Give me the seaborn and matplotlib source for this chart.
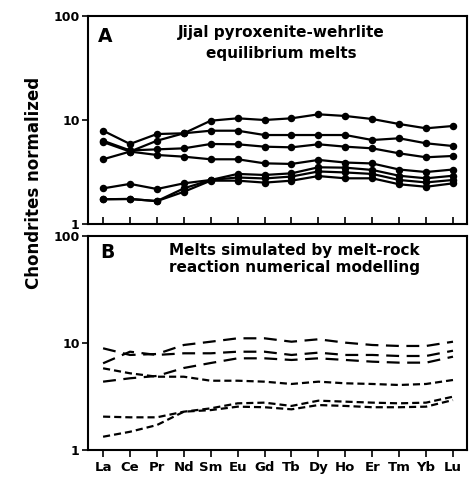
import matplotlib
matplotlib.use("Agg")
import matplotlib.pyplot as plt
from matplotlib.ticker import NullLocator, FixedLocator, FixedFormatter
import seaborn as sns
import pandas as pd

elements = ["La", "Ce", "Pr", "Nd", "Sm", "Eu", "Gd", "Tb", "Dy", "Ho", "Er", "Tm", "Yb", "Lu"]

# Panel A: Jijal pyroxenite-wehrlite equilibrium melts
a1 = [4.19, 4.97, 6.32, 7.45, 9.85, 10.38, 10.0, 10.38, 11.34, 10.93, 10.22, 9.15, 8.32, 8.76]
a2 = [7.89, 5.88, 7.33, 7.45, 7.89, 7.89, 7.17, 7.17, 7.17, 7.17, 6.42, 6.67, 5.97, 5.62]
a3 = [6.32, 5.10, 5.22, 5.34, 5.88, 5.84, 5.54, 5.46, 5.84, 5.54, 5.34, 4.78, 4.38, 4.51]
a4 = [6.14, 4.97, 4.61, 4.44, 4.19, 4.19, 3.83, 3.78, 4.13, 3.90, 3.82, 3.34, 3.16, 3.34]
a5 = [2.20, 2.43, 2.17, 2.46, 2.65, 3.03, 2.96, 3.07, 3.51, 3.48, 3.31, 2.91, 2.75, 2.91]
a6 = [1.73, 1.74, 1.66, 2.20, 2.65, 2.80, 2.74, 2.86, 3.20, 3.13, 3.03, 2.65, 2.51, 2.65]
a7 = [1.73, 1.74, 1.66, 2.04, 2.61, 2.61, 2.50, 2.61, 2.89, 2.75, 2.75, 2.41, 2.28, 2.46]

# Panel B: melts simulated by melt-rock reaction numerical modelling
b1 = [8.92, 7.73, 7.89, 9.58, 10.28, 11.06, 11.06, 10.28, 10.83, 10.07, 9.58, 9.38, 9.38, 10.28]
b2 = [6.46, 8.29, 7.73, 8.01, 8.01, 8.29, 8.29, 7.73, 8.12, 7.73, 7.73, 7.56, 7.56, 8.47]
b3 = [4.35, 4.68, 4.92, 5.84, 6.50, 7.19, 7.19, 6.94, 7.19, 6.94, 6.69, 6.55, 6.55, 7.45]
b4 = [5.80, 5.21, 4.84, 4.84, 4.44, 4.44, 4.35, 4.14, 4.35, 4.20, 4.14, 4.05, 4.14, 4.51]
b5 = [2.05, 2.02, 2.02, 2.28, 2.45, 2.73, 2.77, 2.58, 2.89, 2.83, 2.77, 2.73, 2.77, 3.15]
b6 = [1.33, 1.48, 1.71, 2.28, 2.36, 2.54, 2.51, 2.40, 2.63, 2.58, 2.51, 2.51, 2.54, 2.93]

series_a = {"a1": a1, "a2": a2, "a3": a3, "a4": a4, "a5": a5, "a6": a6, "a7": a7}
series_b = {"b1": b1, "b2": b2, "b3": b3, "b4": b4, "b5": b5, "b6": b6}


def long_df(series):
    rows = []
    for name, vals in series.items():
        for i, v in enumerate(vals):
            rows.append({"series": name, "pos": i, "element": elements[i], "value": v})
    return pd.DataFrame(rows)


dfa = long_df(series_a)
dfb = long_df(series_b)

sns.set_theme(style="ticks")
plt.rcParams["font.family"] = ["DejaVu Sans"]
plt.rcParams["font.weight"] = "bold"
plt.rcParams["text.color"] = "black"
plt.rcParams["axes.labelcolor"] = "black"
plt.rcParams["xtick.color"] = "black"
plt.rcParams["ytick.color"] = "black"

fig = plt.figure(figsize=(4.77, 4.78), dpi=100)
axA = fig.add_axes([0.1845, 0.5314, 0.7945, 0.4351])
axB = fig.add_axes([0.1845, 0.0586, 0.7945, 0.4477])

black_a = {k: "black" for k in series_a}
black_b = {k: "black" for k in series_b}

sns.lineplot(data=dfa, x="pos", y="value", hue="series", palette=black_a,
             units="series", estimator=None, marker="o", markersize=5.4,
             markeredgewidth=0, linewidth=1.6, legend=False, ax=axA)

long_d = (5.8, 3.4)
short_d = (3.2, 1.8)
dash_map = {"b1": long_d, "b2": long_d, "b3": long_d,
            "b4": short_d, "b5": short_d, "b6": short_d}
sns.lineplot(data=dfb, x="pos", y="value", hue="series", palette=black_b,
             style="series", dashes=dash_map, estimator=None,
             linewidth=1.6, legend=False, ax=axB)

for ax in (axA, axB):
    ax.set_yscale("log")
    ax.set_ylim(1, 100)
    ax.set_xlim(-0.56, 13.52)
    ax.yaxis.set_major_locator(FixedLocator([1, 10, 100]))
    ax.yaxis.set_major_formatter(FixedFormatter(["1", "10", "100"]))
    ax.yaxis.set_minor_locator(NullLocator())
    ax.set_xticks(range(len(elements)))
    ax.set_xlabel("")
    ax.set_ylabel("")
    for s in ax.spines.values():
        s.set_linewidth(1.5)
        s.set_color("black")
    ax.tick_params(axis="y", direction="out", length=4, width=1.2, pad=2,
                   labelsize=9, colors="black")
    for lab in ax.get_yticklabels():
        lab.set_fontweight("bold")

axA.set_xticklabels([])
axA.tick_params(axis="x", direction="in", length=5, width=1.2)
axB.set_xticklabels(elements)
axB.tick_params(axis="x", direction="out", length=5, width=1.2, pad=3,
                labelsize=9.5, colors="black")
for lab in axB.get_xticklabels():
    lab.set_fontweight("bold")

axA.text(0.025, 0.945, "A", transform=axA.transAxes, fontsize=13.5,
         fontweight="bold", va="top", ha="left", color="black")
axA.text(0.51, 0.955, "Jijal pyroxenite-wehrlite\nequilibrium melts",
         transform=axA.transAxes, fontsize=11, fontweight="bold",
         va="top", ha="center", linespacing=1.5, color="black")

axB.text(0.033, 0.965, "B", transform=axB.transAxes, fontsize=13.5,
         fontweight="bold", va="top", ha="left", color="black")
axB.text(0.545, 0.965, "Melts simulated by melt-rock\nreaction numerical modelling",
         transform=axB.transAxes, fontsize=11, fontweight="bold",
         va="top", ha="center", linespacing=1.15, color="black")

fig.text(0.072, 0.617, "Chondrites normalized", rotation=90, fontsize=12,
         fontweight="bold", ha="center", va="center", color="black")

fig.savefig("out.png", dpi=100)
